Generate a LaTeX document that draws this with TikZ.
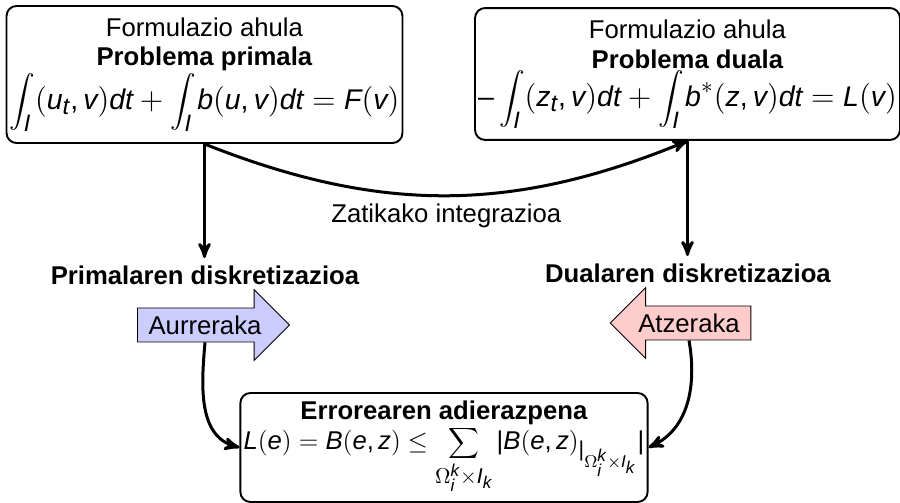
\documentclass[tikz,border=0pt]{standalone}
\usepackage{fontspec}
\setmainfont{Liberation Sans}
\usepackage[italic]{mathastext}
\usetikzlibrary{shapes.arrows,arrows}

% integral handia, letren neurriarekin eskalatua
\DeclareFontFamily{OMX}{handiex}{}
\DeclareFontShape{OMX}{handiex}{m}{n}{<->s*[0.9]cmex10}{}
\DeclareSymbolFont{handiex}{OMX}{handiex}{m}{n}
\DeclareMathSymbol{\Intop}{\mathop}{handiex}{"52}
\newcommand{\Int}{\Intop\nolimits}

\tikzset{
  kutxa/.style={draw, line width=0.9pt, rounded corners=4.7pt, align=center, inner sep=1.5pt},
  gezia/.style={->, line width=1.4pt},
  norabide/.style={single arrow, draw, line width=0.4pt, single arrow head extend=8.6pt, inner xsep=5pt},
  ekuazioa/.style={font=\fontsize{13.3}{15}\selectfont},
}

\begin{document}
\begin{tikzpicture}[x=0.467pt, y=0.467pt, >=stealth', font=\large]
    \useasboundingbox (0,0) rectangle (900,503);

    % formulazio ahulak
    \node[kutxa, minimum width=182.6pt, minimum height=64pt] (primala) at (204.5,428.5)
        {Formulazio ahula\\ \textbf{Problema primala}\\
        {\fontsize{13.3}{15}\selectfont$\displaystyle\Int_I\mkern2mu(u_t,v)dt+\Int_I b(u,v)dt=F(v)$}};
    \node[kutxa, minimum width=195.7pt, minimum height=61.6pt] (duala) at (687.5,429)
        {Formulazio ahula\\ \textbf{Problema duala}\\
        {\fontsize{13.3}{15}\selectfont$\displaystyle-\Int_I\mkern2mu(z_t,v)dt+\Int_I b^*(z,v)dt=L(v)$}};

    % diskretizazioak
    \node[font=\large\bfseries] (primdisk) at (205,228) {Primalaren diskretizazioa};
    \node[font=\large\bfseries] (dualdisk) at (688,230) {Dualaren diskretizazioa};

    \node[norabide, fill=blue!20] (aurreraka) at (205,178) {Aurreraka};
    \node[norabide, fill=red!20, shape border rotate=180] (atzeraka) at (689,180) {Atzeraka};

    % errorea
    \node[kutxa, minimum width=187.7pt, minimum height=50.9pt] (errorea) at (444,55.5)
        {\textbf{Errorearen adierazpena}\\
        $\displaystyle L(e)=B(e,z)\leq\sum_{\Omega_i^k\times I_k}|B(e,z)_{|_{\Omega_i^k\times I_k}}|$};

    % geziak
    \draw[gezia] (primala.south) -- (primala.south |- primdisk.north);
    \draw[gezia] (duala.south) -- (duala.south |- dualdisk.north);
    \draw[gezia] (primala.south) to[bend right=22] node[below] {Zatikako integrazioa} (duala.south);
    \draw[gezia] (aurreraka.south) to[out=265, in=165] (errorea.west);
    \draw[gezia] (atzeraka.south) to[out=-80, in=25] (errorea.east);
\end{tikzpicture}
\end{document}
